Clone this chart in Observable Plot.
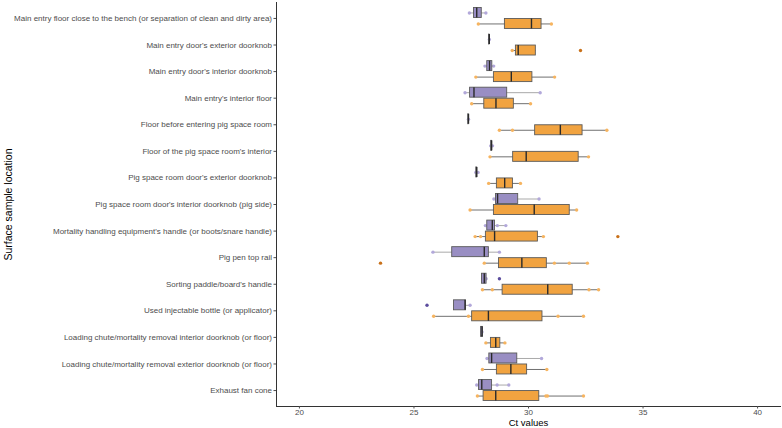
<!DOCTYPE html>
<html>
<head>
<meta charset="utf-8">
<script src="https://cdn.jsdelivr.net/npm/d3@7"></script>
<script src="https://cdn.jsdelivr.net/npm/@observablehq/plot@0.6"></script>
<style>
  body { margin: 0; background: #fff; }
  #chart svg { font-family: "Liberation Sans", Arial, sans-serif; }
</style>
</head>
<body>
<div id="chart"></div>
<script>
// Sampling locations, top to bottom
const categories = [
  "Main entry floor close to the bench (or separation of clean and dirty area)",
  "Main entry door's exterior doorknob",
  "Main entry door's interior doorknob",
  "Main entry's interior floor",
  "Floor before entering pig space room",
  "Floor of the pig space room's interior",
  "Pig space room door's exterior doorknob",
  "Pig space room door's interior doorknob (pig side)",
  "Mortality handling equipment's handle (or boots/snare handle)",
  "Pig pen top rail",
  "Sorting paddle/board's handle",
  "Used injectable bottle (or applicator)",
  "Loading chute/mortality removal interior doorknob (or floor)",
  "Loading chute/mortality removal exterior doorknob (or floor)",
  "Exhaust fan cone"
];

// Ct value box summaries, purple series (upper box of each pair)
const purpleMin = [27.42, 28.28, 28.10, 27.23, 27.37, 28.36, 27.70, 28.49, 28.12, 25.83, 27.97, 26.75, 27.93, 28.19, 27.74];
const purpleQ1  = [27.62, 28.28, 28.20, 27.45, 27.37, 28.37, 27.72, 28.58, 28.20, 26.67, 27.97, 26.75, 27.93, 28.29, 27.84];
const purpleMed = [27.74, 28.29, 28.30, 27.62, 27.38, 28.39, 27.74, 28.65, 28.42, 28.07, 28.07, 27.23, 27.97, 28.39, 27.96];
const purpleQ3  = [27.96, 28.30, 28.42, 29.07, 27.39, 28.41, 27.76, 29.55, 28.54, 28.27, 28.17, 27.27, 28.01, 29.51, 28.41];
const purpleMax = [28.14, 28.30, 28.48, 30.51, 27.39, 28.42, 27.80, 30.46, 29.01, 28.73, 28.17, 27.45, 28.01, 30.57, 29.14];

// Ct value box summaries, orange series (lower box of each pair)
const orangeMin = [27.81, 29.29, 27.70, 27.52, 28.73, 28.32, 28.26, 27.45, 27.67, 28.07, 27.99, 25.86, 28.14, 27.99, 27.77];
const orangeQ1  = [28.97, 29.45, 28.49, 28.07, 30.29, 29.33, 28.62, 28.49, 28.14, 28.71, 28.87, 27.54, 28.36, 28.62, 28.04];
const orangeMed = [30.13, 29.55, 29.25, 28.58, 31.39, 29.90, 28.96, 30.25, 28.52, 29.71, 30.84, 28.25, 28.57, 29.23, 28.57];
const orangeQ3  = [30.57, 30.32, 30.17, 29.36, 32.36, 32.19, 29.32, 31.80, 30.41, 30.80, 31.93, 30.61, 28.77, 29.94, 30.47];
const orangeMax = [31.00, 30.32, 31.14, 30.09, 33.42, 32.62, 29.65, 32.10, 30.65, 32.57, 33.06, 32.40, 28.97, 30.80, 32.40];

// Individual observations as [location index, Ct]
const purplePoints = [
  [0, 27.42], [0, 28.14], [1, 28.29], [2, 28.10], [2, 28.48], [3, 27.23], [3, 30.51],
  [4, 27.38], [5, 28.35], [5, 28.43], [6, 27.70], [6, 27.80], [7, 28.49], [7, 30.46],
  [8, 28.12], [8, 28.64], [8, 29.01], [9, 25.83], [9, 28.73], [10, 28.00], [10, 28.15],
  [11, 27.45], [12, 27.97], [13, 28.19], [13, 30.57], [14, 27.74], [14, 28.63], [14, 29.14]
];
const orangePoints = [
  [0, 27.81], [0, 31.00], [1, 29.29], [2, 27.70], [2, 31.14], [3, 27.52], [3, 30.09],
  [4, 28.73], [4, 29.30], [4, 33.42], [5, 28.32], [5, 32.62], [6, 28.26], [6, 29.65],
  [7, 27.45], [7, 32.10], [8, 27.67], [8, 27.91], [8, 30.65], [9, 28.07], [9, 31.13],
  [9, 31.78], [9, 32.57], [10, 27.99], [10, 28.42], [10, 32.64], [10, 33.06],
  [11, 25.86], [11, 27.38], [11, 31.29], [11, 32.40], [12, 28.14], [12, 28.97],
  [13, 27.99], [13, 30.80], [14, 27.77], [14, 30.76], [14, 30.83], [14, 32.40]
];

// Outliers beyond the whiskers as [location index, Ct]
const purpleOutliers = [[10, 28.73], [11, 25.57]];
const orangeOutliers = [[1, 32.27], [8, 33.90], [9, 23.54]];

const xTicks = [20, 25, 30, 35, 40];

const summaries = (mins, q1s, meds, q3s, maxs) =>
  categories.map((cat, i) => ({cat, min: mins[i], q1: q1s[i], med: meds[i], q3: q3s[i], max: maxs[i]}));
const asPoints = (pairs) => pairs.map(([i, v]) => ({cat: categories[i], v}));

const purple = summaries(purpleMin, purpleQ1, purpleMed, purpleQ3, purpleMax);
const orange = summaries(orangeMin, orangeQ1, orangeMed, orangeQ3, orangeMax);

// Dodge: the purple box sits above the band centre, the orange one below
const OFFSET = 5.5;
const upperInset = {insetTop: 2.8, insetBottom: 13.8};
const lowerInset = {insetTop: 13.8, insetBottom: 2.8};

function boxplot(stats, pts, outs, style, upper) {
  const dy = upper ? -OFFSET : OFFSET;
  const inset = upper ? upperInset : lowerInset;
  return [
    Plot.ruleY(stats, {y: "cat", x1: "min", x2: "max", dy, stroke: style.whisker, strokeWidth: 1}),
    Plot.dot(asPoints(pts), {y: "cat", x: "v", dy, r: 1.7, fill: style.point, stroke: "none"}),
    Plot.barX(stats, {y: "cat", x1: "q1", x2: "q3", fill: style.fill, stroke: "#5a5a5a", strokeWidth: 0.9, ...inset}),
    Plot.tickX(stats, {y: "cat", x: "med", stroke: "#2a2a2a", strokeWidth: 1.4, ...inset}),
    Plot.dot(asPoints(outs), {y: "cat", x: "v", dy, r: 1.7, fill: style.outlier, stroke: "none"})
  ];
}

const chart = Plot.plot({
  width: 782,
  height: 428,
  marginLeft: 276,
  marginRight: 2,
  marginTop: 2,
  marginBottom: 22,
  style: {fontFamily: "Liberation Sans, Arial, sans-serif", background: "#fff"},
  x: {domain: [19, 41]},
  y: {domain: categories, paddingInner: 0, paddingOuter: 0.1, round: false},
  marks: [
    ...boxplot(purple, purplePoints, purpleOutliers,
      {fill: "#998ec3", whisker: "#a9a9a9", point: "#b2a8da", outlier: "#5c4d9e"}, true),
    ...boxplot(orange, orangePoints, orangeOutliers,
      {fill: "#f1a340", whisker: "#707070", point: "#f6b460", outlier: "#c9711a"}, false),
    Plot.frame({anchor: "left", stroke: "#333"}),
    Plot.frame({anchor: "bottom", stroke: "#333"}),
    Plot.axisY({tickSize: 2.5, tickPadding: 2, fontSize: 8, fill: "#4d4d4d", stroke: "#4d4d4d", label: null}),
    Plot.axisY({ticks: [], label: "Surface sample location", labelAnchor: "center", labelOffset: 272, fontSize: 10.5, fill: "#000"}),
    Plot.axisX({ticks: xTicks, tickSize: 2.5, tickPadding: 0.5, fontSize: 8, fill: "#4d4d4d", stroke: "#4d4d4d", label: null}),
    Plot.axisX({ticks: [], label: "Ct values", labelAnchor: "center", labelOffset: 19, labelArrow: "none", fontSize: 9.5, fill: "#000"})
  ]
});
document.getElementById("chart").appendChild(chart);
</script>
</body>
</html>
